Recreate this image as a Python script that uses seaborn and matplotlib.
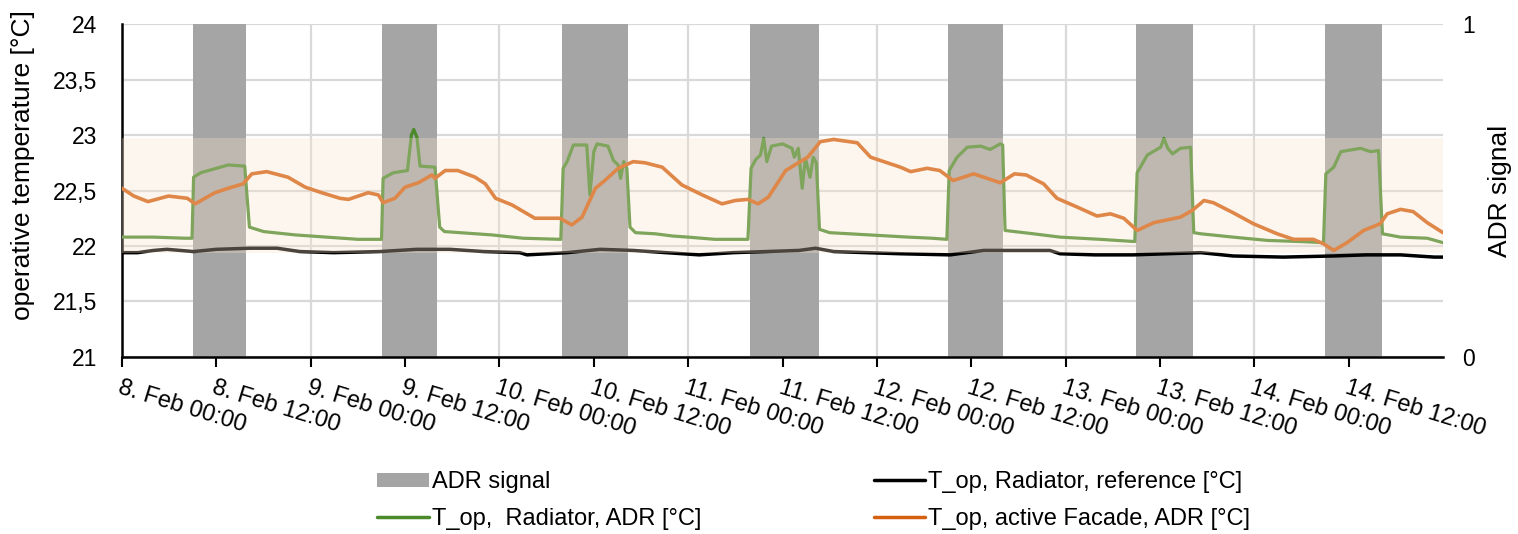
import numpy as np
import matplotlib
matplotlib.use("Agg")
import matplotlib.pyplot as plt
import seaborn as sns
from matplotlib.patches import Patch
from matplotlib.lines import Line2D

# hours since 8 Feb 00:00
adr_start = [9.0, 33.1, 55.9, 79.8, 105.1, 129.0, 153.0]
adr_end = [15.8, 40.0, 64.3, 88.6, 112.1, 136.2, 160.2]

ref_h = [0, 2, 4, 5.7, 9.1, 12, 16.3, 19.7, 22.6, 26.9, 32.8, 37.5, 41.7, 46, 50.6,
         51.5, 56.6, 60.8, 65, 69.2, 73.4, 77.7, 81.9, 86.1, 88.2, 90.5, 94.7, 99,
         105.3, 109.6, 114.2, 118, 119.3, 123.7, 128.6, 132.8, 137.2, 141.3, 147.7,
         154, 158.2, 162.6, 166.9, 168]
ref_t = [21.94, 21.94, 21.96, 21.97, 21.95, 21.97, 21.98, 21.98, 21.95, 21.94, 21.95,
         21.97, 21.97, 21.95, 21.94, 21.92, 21.94, 21.97, 21.96, 21.94, 21.92, 21.94,
         21.95, 21.96, 21.98, 21.95, 21.94, 21.93, 21.92, 21.96, 21.96, 21.96, 21.93,
         21.92, 21.92, 21.93, 21.94, 21.91, 21.90, 21.91, 21.92, 21.92, 21.90, 21.90]

rad_h = [0, 4, 8, 8.9, 9.1, 10, 12, 13.5, 15.6, 16.2, 18, 22, 26, 30, 33, 33.2, 34.5,
         36.3, 36.8, 37.1, 37.5, 37.9, 39.8, 40.4, 41, 43, 47, 51, 55.8, 56.1, 56.6,
         57.4, 59.1, 59.5, 60.0, 60.4, 61.8, 62.5, 63.1, 63.4, 63.8, 64.2, 64.6, 65.3,
         67.8, 70, 72, 75.4, 79.6, 80.0, 80.6, 81.2, 81.6, 82.0, 82.6, 84, 85.2, 85.5,
         86.0, 86.5, 86.9, 87.5, 87.9, 88.3, 88.7, 90, 95, 100, 103, 104.9, 105.2,
         106.2, 107.5, 109.2, 110.4, 111.7, 112.0, 112.3, 115.9, 119.3, 124.4, 128.8,
         129.1, 130.4, 132.1, 132.5, 133.0, 133.6, 134.6, 135.9, 136.3, 137.2, 141.3,
         145.7, 149.9, 152.8, 153.1, 154.1, 155, 157.5, 158.8, 159.8, 160.3, 162.6,
         166, 168]
rad_t = [22.08, 22.08, 22.07, 22.07, 22.62, 22.66, 22.70, 22.73, 22.72, 22.17, 22.13,
         22.10, 22.08, 22.06, 22.06, 22.61, 22.66, 22.68, 23.00, 23.05, 22.98, 22.72,
         22.71, 22.17, 22.13, 22.12, 22.10, 22.07, 22.06, 22.70, 22.76, 22.91, 22.91,
         22.46, 22.85, 22.92, 22.90, 22.77, 22.73, 22.61, 22.76, 22.70, 22.17, 22.12,
         22.11, 22.09, 22.08, 22.06, 22.06, 22.70, 22.78, 22.82, 22.97, 22.76, 22.90,
         22.92, 22.88, 22.80, 22.88, 22.52, 22.79, 22.62, 22.80, 22.75, 22.15, 22.12,
         22.10, 22.08, 22.07, 22.06, 22.68, 22.80, 22.89, 22.90, 22.87, 22.92, 22.91,
         22.14, 22.11, 22.08, 22.06, 22.04, 22.66, 22.82, 22.89, 22.97, 22.88, 22.83,
         22.88, 22.89, 22.12, 22.11, 22.08, 22.05, 22.04, 22.03, 22.65, 22.71, 22.85,
         22.88, 22.85, 22.86, 22.11, 22.08, 22.07, 22.03]

fac_h = [0, 1.5, 3.3, 5.9, 8.3, 9.3, 11.8, 13.5, 15.4, 16.5, 18.4, 21.1, 23.3, 25.4,
         27.7, 28.8, 31.3, 32.6, 33.2, 34.7, 36, 37.7, 39.4, 39.8, 41.1, 42.7, 44.9,
         46.2, 47.5, 49.6, 52.5, 55.7, 57.2, 58.5, 60.2, 61.4, 63.1, 65, 66.5, 68.7,
         71.2, 73.8, 76.3, 78, 79.6, 80.9, 82.2, 84.4, 87.2, 88.8, 90.5, 93.5, 95.2,
         99, 100.3, 102.4, 104, 105.7, 108.3, 111.7, 113.5, 115, 117.2, 118.9, 121.5,
         124, 125.7, 127.4, 129.1, 131.2, 134.6, 136.1, 137.6, 138.8, 141.3, 143.9,
         146.9, 149, 151.5, 152.8, 154.1, 155.8, 157.9, 160, 160.9, 162.6, 164.2,
         166, 168]
fac_t = [22.52, 22.45, 22.40, 22.45, 22.43, 22.38, 22.48, 22.52, 22.56, 22.65, 22.67,
         22.62, 22.53, 22.48, 22.43, 22.42, 22.48, 22.46, 22.39, 22.43, 22.53, 22.57,
         22.64, 22.61, 22.68, 22.68, 22.62, 22.56, 22.43, 22.37, 22.25, 22.25, 22.19,
         22.26, 22.52, 22.59, 22.70, 22.76, 22.75, 22.71, 22.55, 22.46, 22.38, 22.41,
         22.42, 22.38, 22.44, 22.68, 22.80, 22.94, 22.96, 22.93, 22.80, 22.71, 22.67,
         22.70, 22.68, 22.59, 22.65, 22.57, 22.65, 22.64, 22.56, 22.43, 22.35, 22.27,
         22.29, 22.25, 22.14, 22.21, 22.26, 22.32, 22.41, 22.39, 22.30, 22.20, 22.11,
         22.06, 22.06, 22.02, 21.96, 22.03, 22.14, 22.20, 22.29, 22.33, 22.31, 22.21,
         22.12]

band_low, band_high = 21.935, 22.97

x_ticks = list(range(0, 168, 12))
x_labels = ["8. Feb 00:00", "8. Feb 12:00", "9. Feb 00:00", "9. Feb 12:00",
            "10. Feb 00:00", "10. Feb 12:00", "11. Feb 00:00", "11. Feb 12:00",
            "12. Feb 00:00", "12. Feb 12:00", "13. Feb 00:00", "13. Feb 12:00",
            "14. Feb 00:00", "14. Feb 12:00"]
y_ticks = [21, 21.5, 22, 22.5, 23, 23.5, 24]
y_labels = ["21", "21,5", "22", "22,5", "23", "23,5", "24"]

c_grey = "#a5a5a5"
c_black = "#000000"
c_green = "#4a8a2a"
c_orange = "#d5600f"
c_band = "#f8e4cd"
c_grid = "#d9d9d9"

sns.set_theme(style="white")
plt.rcParams["font.family"] = ["Liberation Sans", "DejaVu Sans"]
plt.rcParams["text.color"] = "black"
plt.rcParams["axes.labelcolor"] = "black"
plt.rcParams["xtick.color"] = "black"
plt.rcParams["ytick.color"] = "black"

fig = plt.figure(figsize=(15.18, 5.34), dpi=100)
ax = fig.add_axes([0.0804, 0.3315, 0.8702, 0.6235])
ax2 = ax.twinx()
ax2.set_zorder(1)
ax.set_zorder(2)
ax.patch.set_visible(False)
ax2.patch.set_visible(True)
ax2.patch.set_facecolor("white")

# ADR bars + grid live on the secondary axis (drawn below the temperature lines)
ax2.xaxis.set_visible(True)
ax2.bar(adr_start, [1] * len(adr_start), width=np.subtract(adr_end, adr_start),
        align="edge", color=c_grey, linewidth=0, zorder=2)
ax2.set_ylim(0, 1)
ax2.set_yticks(np.linspace(0, 1, 7), ["0", "", "", "", "", "", "1"])
ax2.set_axisbelow(True)
ax2.grid(True, color=c_grid, linewidth=1.6)
ax2.tick_params(axis="x", length=0, labelbottom=False, labeltop=False)
ax2.tick_params(axis="y", length=0, labelsize=16.5, pad=14)
ax2.set_ylabel("ADR signal", fontsize=19)
ax2.yaxis.set_label_coords(1.034, 0.5)
for s in ax2.spines.values():
    s.set_visible(False)

sns.lineplot(x=ref_h, y=ref_t, ax=ax, color=c_black, linewidth=2.5, zorder=3)
sns.lineplot(x=rad_h, y=rad_t, ax=ax, color=c_green, linewidth=2.3, zorder=3)
sns.lineplot(x=fac_h, y=fac_t, ax=ax, color=c_orange, linewidth=2.6, zorder=3)
ax.axhspan(band_low, band_high, color=c_band, alpha=0.3, linewidth=0, zorder=5)

ax.set_xlim(0, 168)
ax.set_ylim(21, 24)
ax.set_yticks(y_ticks, y_labels)
ax.set_xticks(x_ticks, x_labels, rotation=-17, ha="left", va="top",
              rotation_mode="anchor")
ax.tick_params(axis="y", length=0, labelsize=16.5, pad=18)
ax.tick_params(axis="x", direction="out", length=7, width=1.5, color="black",
               labelsize=17, pad=7, bottom=True)
ax.set_ylabel("operative temperature [°C]", fontsize=19)
ax.yaxis.set_label_coords(-0.066, 0.577)
ax.set_xlabel("")
for side in ["top", "right"]:
    ax.spines[side].set_visible(False)
for side in ["left", "bottom"]:
    ax.spines[side].set_color("black")
    ax.spines[side].set_linewidth(1.8)

handles = [Patch(facecolor=c_grey, edgecolor="none"),
           Line2D([], [], color=c_green, linewidth=2.5),
           Line2D([], [], color=c_black, linewidth=2.5),
           Line2D([], [], color=c_orange, linewidth=2.5)]
labels = ["ADR signal", "T_op,  Radiator, ADR [°C]",
          "T_op, Radiator, reference [°C]", "T_op, active Facade, ADR [°C]"]
fig.legend(handles, labels, loc="upper left", bbox_to_anchor=(377 / 1518, 1 - 471 / 534),
           ncol=2, frameon=False, fontsize=17, handlelength=2.2, handleheight=0.55,
           handletextpad=0.12, labelspacing=0.62, columnspacing=7.3,
           borderpad=0, borderaxespad=0)

fig.savefig("out.png", dpi=100)
